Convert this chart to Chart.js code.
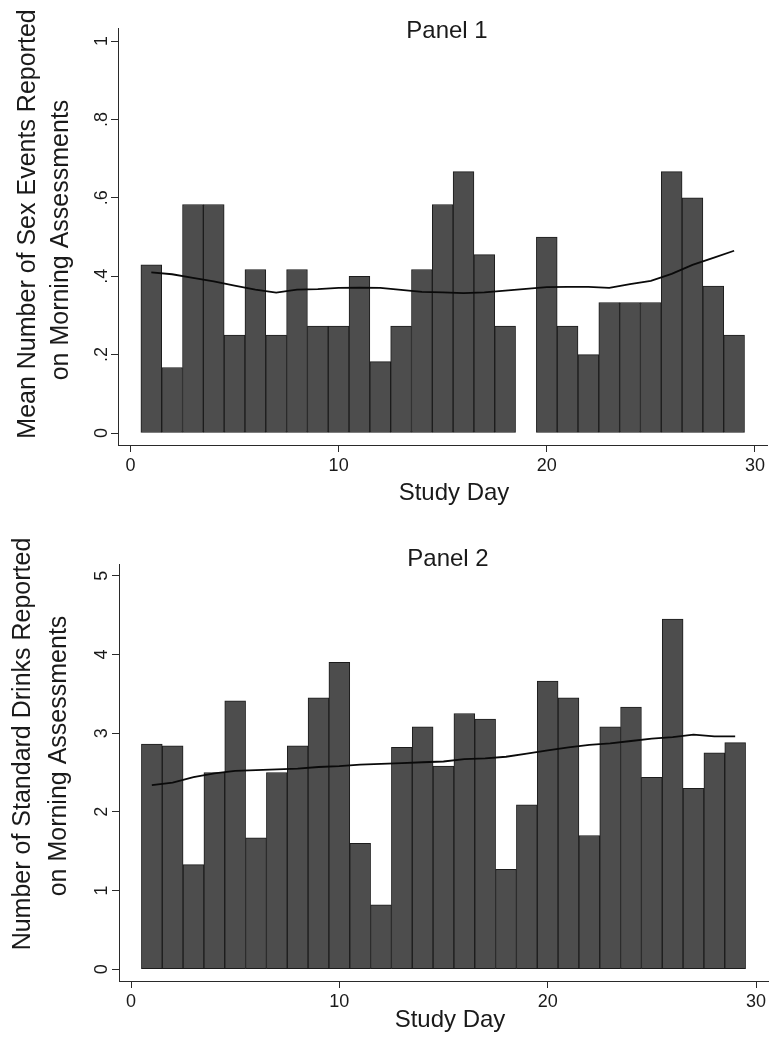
<!DOCTYPE html>
<html>
<head>
<meta charset="utf-8">
<script src="https://cdn.jsdelivr.net/npm/chart.js@4/dist/chart.umd.min.js"></script>
<style>
  html, body { margin: 0; padding: 0; background: #ffffff; }
  #wrap { position: relative; width: 781px; height: 1049px; overflow: hidden; }
  #c1 { position: absolute; left: 0; top: 0; }
  #c2 { position: absolute; left: 0; top: 525px; }
</style>
</head>
<body>
<div id="wrap">
  <canvas id="c1" width="781" height="525"></canvas>
  <canvas id="c2" width="781" height="524"></canvas>
</div>
<script>
// ---------- DATA ----------
const xTickValues = [0, 10, 20, 30];
const xAxisTitle = "Study Day";

// Panel 1
const panel1Title = "Panel 1";
const panel1YTitle = ["Mean Number of Sex Events Reported", "on Morning Assessments"];
const panel1Days = [1,2,3,4,5,6,7,8,9,10,11,12,13,14,15,16,17,18,20,21,22,23,24,25,26,27,28,29];
const panel1Means = [0.429,0.167,0.583,0.583,0.250,0.417,0.250,0.417,0.273,0.273,0.400,0.182,0.273,0.417,0.583,0.667,0.455,0.273,0.500,0.273,0.200,0.333,0.333,0.333,0.667,0.600,0.375,0.250];
const panel1Smooth = [0.410,0.405,0.396,0.387,0.376,0.366,0.358,0.366,0.367,0.370,0.371,0.370,0.365,0.360,0.359,0.357,0.359,0.363,0.372,0.373,0.373,0.370,0.380,0.388,0.406,0.429,0.447,0.465];
const panel1YTicks = [0, 0.2, 0.4, 0.6, 0.8, 1];
const panel1YTickLabels = ["0", ".2", ".4", ".6", ".8", "1"];

// Panel 2
const panel2Title = "Panel 2";
const panel2YTitle = ["Number of Standard Drinks Reported", "on Morning Assessments"];
const panel2Days = [1,2,3,4,5,6,7,8,9,10,11,12,13,14,15,16,17,18,19,20,21,22,23,24,25,26,27,28,29];
const panel2Means = [2.86,2.84,1.33,2.50,3.41,1.67,2.50,2.84,3.45,3.90,1.60,0.82,2.82,3.08,2.58,3.25,3.18,1.27,2.09,3.66,3.45,1.70,3.08,3.33,2.44,4.45,2.30,2.75,2.88];
const panel2Smooth = [2.34,2.37,2.44,2.49,2.52,2.53,2.54,2.55,2.57,2.58,2.60,2.61,2.62,2.63,2.64,2.67,2.68,2.70,2.74,2.78,2.82,2.85,2.87,2.90,2.93,2.95,2.98,2.96,2.96];
const panel2YTicks = [0, 1, 2, 3, 4, 5];
const panel2YTickLabels = ["0", "1", "2", "3", "4", "5"];

// ---------- STYLE ----------
const FONT = "'Liberation Sans', Arial, Helvetica, sans-serif";
const TEXT = "#1a1a1a";
const AXIS = "#2a2a2a";
const BAR_FILL = "#4d4d4d";
const BAR_EDGE = "#1c1c1c";

function makePanel(canvasId, cfg) {
  const textPlugin = {
    id: 'stataText',
    afterDraw(chart) {
      const ctx = chart.ctx;
      const ys = chart.scales.y;
      ctx.save();
      ctx.fillStyle = TEXT;
      // rotated y tick labels
      ctx.font = "18px " + FONT;
      ctx.textAlign = "center";
      ctx.textBaseline = "alphabetic";
      cfg.yTicks.forEach((v, i) => {
        const py = ys.getPixelForValue(v);
        ctx.save();
        ctx.translate(cfg.yTickBaseX, py);
        ctx.rotate(-Math.PI / 2);
        ctx.fillText(cfg.yTickLabels[i], 0, 0);
        ctx.restore();
      });
      // y-axis title (two lines, rotated)
      ctx.font = "25px " + FONT;
      cfg.yTitle.forEach((line, i) => {
        ctx.save();
        ctx.translate(cfg.yTitlePos[i][0], cfg.yTitlePos[i][1]);
        ctx.rotate(-Math.PI / 2);
        ctx.fillText(line, 0, 0);
        ctx.restore();
      });
      // panel title
      ctx.font = "24px " + FONT;
      ctx.fillText(cfg.title, cfg.titlePos[0], cfg.titlePos[1]);
      // x-axis title
      ctx.fillText(xAxisTitle, cfg.xTitlePos[0], cfg.xTitlePos[1]);
      ctx.restore();
    }
  };

  const barData = cfg.days.map((d, i) => ({ x: d, y: cfg.means[i] }));
  const lineData = cfg.days.map((d, i) => ({ x: d, y: cfg.smooth[i] }));

  return new Chart(document.getElementById(canvasId), {
    type: 'bar',
    data: {
      datasets: [
        {
          type: 'line',
          data: lineData,
          borderColor: '#0a0a0a',
          borderWidth: 1.8,
          pointRadius: 0,
          tension: 0,
          fill: false,
          order: 0
        },
        {
          type: 'bar',
          data: barData,
          backgroundColor: BAR_FILL,
          borderColor: BAR_EDGE,
          borderWidth: 1,
          borderSkipped: false,
          barPercentage: 1,
          categoryPercentage: 1,
          order: 1
        }
      ]
    },
    options: {
      responsive: false,
      animation: false,
      devicePixelRatio: 1,
      layout: { padding: cfg.padding },
      plugins: { legend: { display: false }, title: { display: false }, tooltip: { enabled: false } },
      scales: {
        x: {
          type: 'linear',
          min: cfg.xMin,
          max: cfg.xMax,
          offset: false,
          afterBuildTicks(scale) { scale.ticks = xTickValues.map(v => ({ value: v })); },
          afterFit(scale) { scale.height = cfg.xAxisHeight; },
          ticks: {
            autoSkip: false,
            maxRotation: 0,
            minRotation: 0,
            padding: 3,
            color: TEXT,
            font: { family: FONT, size: 18 },
            callback: (v) => String(v)
          },
          grid: {
            display: true,
            offset: false,
            drawOnChartArea: false,
            drawTicks: true,
            tickLength: 7,
            color: AXIS,
            lineWidth: 1
          },
          border: { display: true, color: AXIS, width: 1 }
        },
        y: {
          type: 'linear',
          min: cfg.yMin,
          max: cfg.yMax,
          afterBuildTicks(scale) { scale.ticks = cfg.yTicks.map(v => ({ value: v })); },
          afterFit(scale) { scale.width = cfg.yAxisWidth; },
          ticks: { display: false },
          grid: {
            display: true,
            offset: false,
            drawOnChartArea: false,
            drawTicks: true,
            tickLength: 7,
            color: AXIS,
            lineWidth: 1
          },
          border: { display: true, color: AXIS, width: 1 }
        }
      }
    },
    plugins: [textPlugin]
  });
}

makePanel('c1', {
  days: panel1Days, means: panel1Means, smooth: panel1Smooth,
  yTicks: panel1YTicks, yTickLabels: panel1YTickLabels,
  yTitle: panel1YTitle, title: panel1Title,
  xMin: -0.6, xMax: 30.58, yMin: -0.0306, yMax: 1.0332,
  padding: { left: 0, top: 28, right: 14, bottom: 0 },
  yAxisWidth: 118, xAxisHeight: 80,
  yTickBaseX: 107,
  yTitlePos: [[35, 224], [68, 240]],
  titlePos: [447, 38],
  xTitlePos: [454, 500]
});

makePanel('c2', {
  days: panel2Days, means: panel2Means, smooth: panel2Smooth,
  yTicks: panel2YTicks, yTickLabels: panel2YTickLabels,
  yTitle: panel2YTitle, title: panel2Title,
  xMin: -0.576, xMax: 30.576, yMin: -0.149, yMax: 5.149,
  padding: { left: 0, top: 39, right: 13, bottom: 0 },
  yAxisWidth: 119, xAxisHeight: 68,
  yTickBaseX: 107,
  yTitlePos: [[30, 744], [66, 756]].map(p => [p[0], p[1] - 525]),
  titlePos: [448, 566 - 525],
  xTitlePos: [450, 1027 - 525]
});
</script>
</body>
</html>
